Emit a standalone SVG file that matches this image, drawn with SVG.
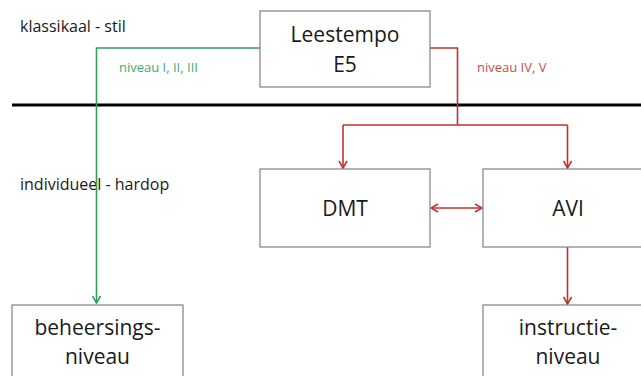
<svg xmlns="http://www.w3.org/2000/svg" width="641" height="376" viewBox="0 0 641 376">
<style>
.box{fill:#fff;stroke:#808080;stroke-width:1.2}
.big{font-family:"Open Sans","Liberation Sans",sans-serif;font-size:21px;fill:#1a1a1a;text-anchor:middle}
.lab{font-family:"Open Sans","Liberation Sans",sans-serif;font-size:16px;fill:#1a1a1a}
.sm{font-family:"Open Sans","Liberation Sans",sans-serif;font-size:13px}
.g{fill:none;stroke:#2fa060;stroke-width:1.6}
.r{fill:none;stroke:#c4302b;stroke-width:1.6}
</style>
<defs>
<marker id="ag" viewBox="0 0 10 10" refX="9" refY="5" markerWidth="10" markerHeight="10" markerUnits="userSpaceOnUse" orient="auto-start-reverse">
<polyline points="2,1 9,5 2,9" fill="none" stroke="#2fa060" stroke-width="1.6"/>
</marker>
<marker id="ar" viewBox="0 0 10 10" refX="9" refY="5" markerWidth="10" markerHeight="10" markerUnits="userSpaceOnUse" orient="auto-start-reverse">
<polyline points="2,1 9,5 2,9" fill="none" stroke="#c4302b" stroke-width="1.6"/>
</marker>
</defs>
<line x1="12" y1="105" x2="641" y2="105" stroke="#000" stroke-width="3"/>
<text class="lab" x="20" y="32">klassikaal - stil</text>
<text class="lab" x="20" y="190">individueel - hardop</text>
<g id="connectors">
<path class="g" d="M260,48 H96.5 V303" marker-end="url(#ag)"/>
<path class="r" d="M430,48 H457.5 V125"/>
<path class="r" d="M343,125 H567.5"/>
<path class="r" d="M343,125 V168" marker-end="url(#ar)"/>
<path class="r" d="M567.5,125 V168" marker-end="url(#ar)"/>
<path class="r" d="M431,208 H482" marker-start="url(#ar)" marker-end="url(#ar)"/>
<path class="r" d="M567.5,247 V304" marker-end="url(#ar)"/>
<text class="sm" x="119" y="72" fill="#3cae70">niveau I, II, III</text>
<text class="sm" x="477" y="72" fill="#c0504d">niveau IV, V</text>
</g>
<g id="leestempo">
<rect class="box" x="260" y="11" width="170" height="76"/>
<text class="big" x="345" y="42">Leestempo</text>
<text class="big" x="345" y="72">E5</text>
</g>
<g id="dmt">
<rect class="box" x="260" y="169" width="170" height="78"/>
<text class="big" x="345" y="216">DMT</text>
</g>
<g id="avi">
<rect class="box" x="483" y="169" width="170" height="78"/>
<text class="big" x="568" y="216">AVI</text>
</g>
<g id="beheersings">
<rect class="box" x="12" y="305" width="171" height="80"/>
<text class="big" x="97.5" y="335">beheersings-</text>
<text class="big" x="97.5" y="364">niveau</text>
</g>
<g id="instructie">
<rect class="box" x="483" y="305" width="170" height="80"/>
<text class="big" x="568" y="335">instructie-</text>
<text class="big" x="568" y="364">niveau</text>
</g>
</svg>
